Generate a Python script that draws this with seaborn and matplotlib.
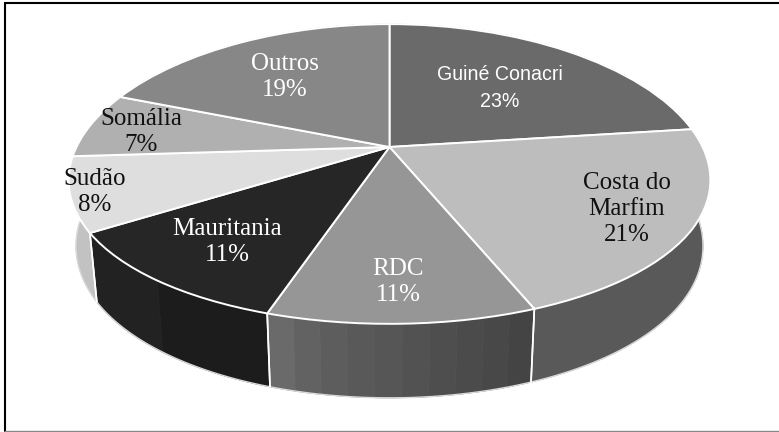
import numpy as np
import matplotlib
matplotlib.use("Agg")
import matplotlib.pyplot as plt
from matplotlib.transforms import Transform
import seaborn as sns

categories = ["Guiné Conacri", "Costa do\nMarfim", "RDC", "Mauritania", "Sudão", "Somália", "Outros"]
shares = [23, 21, 11, 11, 8, 7, 19]
top_colors = ["#6a6a6a", "#bdbdbd", "#969696", "#262626", "#dedede", "#b0b0b0", "#878787"]
wall_shades = [
    ["#6a6a6a"],
    ["#595959"],
    ["#444444", "#484848", "#4b4b4b", "#4e4e4e", "#525252", "#565656", "#595959", "#5d5d5d", "#626262", "#6a6a6a"],
    ["#1c1c1c", "#222222"],
    ["#c2c2c2"],
    ["#c2c2c2"],
    ["#6a6a6a"],
]
label_xy = [(500, 88), (627, 209), (398, 282), (227, 242), (95, 192), (141, 132), (285, 77)]
label_colors = ["white", "#111111", "white", "white", "#111111", "#111111", "white"]

CX, CY, A, B, KX, KY = 389.5, 147.0, 313.0, 145.0, 0.22, 0.18
SHRINK = 0.977


def project(x, y):
    return CX + A * x / (1 + KX * y), CY - B * y / (1 + KY * y)


class Perspective(Transform):
    input_dims = output_dims = 2
    is_separable = False
    has_inverse = False

    def transform_non_affine(self, values):
        v = np.asarray(values, dtype=float)
        px, py = project(v[:, 0], v[:, 1])
        return np.column_stack([px, py])


sns.set_theme(style="white")
fig = plt.figure(figsize=(7.79, 4.32), dpi=100, facecolor="white")
ax = fig.add_axes([0, 0, 1, 1])

edges = 90 - np.cumsum([0] + shares) * 3.6


def rim(theta):
    r = np.radians(theta)
    return project(np.cos(r), np.sin(r))


def lower(px, py):
    return CX + (px - CX) * SHRINK, py + 64 + 10 * (py - CY) / 177


for i, shades in enumerate(wall_shades):
    t0, t1 = edges[i], edges[i + 1]
    parts = np.linspace(t0, t1, len(shades) + 1)
    for j, c in enumerate(shades):
        th = np.linspace(parts[j], parts[j + 1], 30)
        ux, uy = rim(th)
        lx, ly = lower(ux, uy)
        ax.fill(np.r_[ux, lx[::-1]], np.r_[uy, ly[::-1]], facecolor=c, edgecolor=c, lw=0.6, zorder=1)
    th = np.linspace(t0, t1, 80)
    ux, uy = rim(th)
    lx, ly = lower(ux, uy)
    ax.plot(lx, ly, color="#d9d9d9", lw=1.0, zorder=2)
    ax.plot([ux[0], lx[0]], [uy[0], ly[0]], color="white", lw=1.2, zorder=2)
    ax.plot([ux[-1], lx[-1]], [uy[-1], ly[-1]], color="white", lw=1.2, zorder=2)

wedges, _ = ax.pie(shares, colors=top_colors, startangle=90, counterclock=False,
                   wedgeprops=dict(edgecolor="white", linewidth=1.4, zorder=3))
ax.set_aspect("auto")
ax.set_xlim(0, 779)
ax.set_ylim(432, 0)
persp = Perspective()
for w in wedges:
    w.set_transform(persp + ax.transData)
    w.set_zorder(3)

for i, (name, pct) in enumerate(zip(categories, shares)):
    family = "Liberation Sans" if i == 0 else "Liberation Serif"
    size = 14.1 if i == 0 else 18
    spacing = 1.47 if i == 0 else 1.22
    ax.text(*label_xy[i], f"{name}\n{pct}%", ha="center", va="center", color=label_colors[i],
            family=family, fontsize=size, linespacing=spacing, zorder=5)

ax.plot([5, 5, 779], [431, 3, 3], color="black", lw=1.5, zorder=6, solid_joinstyle="miter")
ax.plot([5, 779], [431, 431], color="#888888", lw=1.0, zorder=6)
ax.set_axis_off()
fig.savefig("out.png", dpi=100)
